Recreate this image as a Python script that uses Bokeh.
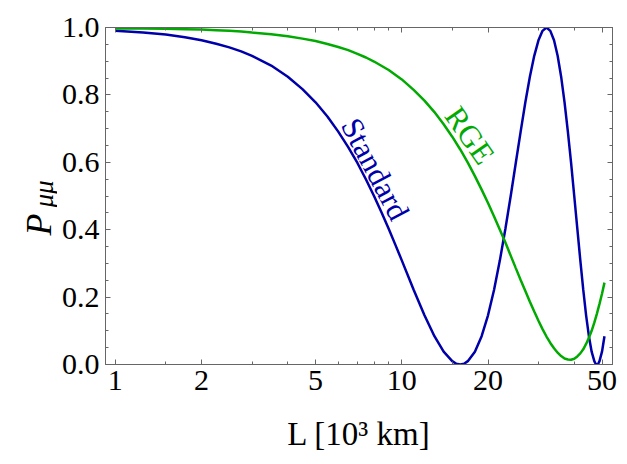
from bokeh.plotting import figure
from bokeh.layouts import row
from bokeh.models import (FixedTicker, LogAxis, LinearAxis, Range1d,
                          CustomJSTickFormatter)
from bokeh.embed import file_html
from bokeh.resources import INLINE
from bokeh.core.properties import value

# ---- data ----
L_std = [1, 1.25, 1.5, 1.75, 2, 2.25, 2.5, 2.75, 3, 3.5, 4, 4.5, 5, 5.5, 6, 6.5,
         7, 7.5, 8, 8.5, 9, 9.5, 10, 11, 12, 13, 14, 15, 15.5, 16, 16.5, 17, 18,
         19, 20, 21, 22, 23, 24, 25, 26, 27, 28, 29, 30, 31, 32, 33, 34, 35, 36,
         37, 38, 39, 40, 41, 42, 43, 44, 45, 46, 47, 47.5, 48, 48.5, 49, 50, 51]
P_std = [0.990, 0.985, 0.979, 0.971, 0.962, 0.952, 0.941, 0.929, 0.916, 0.887,
         0.854, 0.817, 0.778, 0.736, 0.691, 0.645, 0.598, 0.549, 0.500, 0.451,
         0.403, 0.355, 0.309, 0.222, 0.146, 0.084, 0.038, 0.010, 0.002, 0.000,
         0.002, 0.010, 0.038, 0.084, 0.146, 0.222, 0.309, 0.403, 0.500, 0.598,
         0.691, 0.778, 0.854, 0.916, 0.962, 0.990, 1.000, 0.990, 0.962, 0.916,
         0.854, 0.778, 0.691, 0.598, 0.500, 0.403, 0.309, 0.222, 0.146, 0.084,
         0.038, 0.010, 0.002, 0.000, 0.002, 0.010, 0.038, 0.084]

L_rge = [1, 1.25, 1.5, 1.75, 2, 2.25, 2.5, 2.75, 3, 3.5, 4, 4.5, 5, 5.5, 6, 6.5,
         7, 7.5, 8, 9, 10, 11, 12, 13, 14, 15, 16, 17, 18, 19, 20, 21, 22, 23,
         24, 25, 26, 27, 28, 29, 30, 31, 32, 33, 34, 35, 36, 37, 38, 39, 40, 41,
         42, 43, 44, 45, 46, 47, 48, 49, 50, 51]
P_rge = [0.997, 0.997, 0.996, 0.995, 0.994, 0.992, 0.990, 0.988, 0.985, 0.980,
         0.974, 0.967, 0.960, 0.951, 0.942, 0.933, 0.922, 0.911, 0.899, 0.874,
         0.846, 0.815, 0.783, 0.749, 0.713, 0.676, 0.638, 0.599, 0.559, 0.519,
         0.479, 0.439, 0.400, 0.362, 0.323, 0.286, 0.251, 0.218, 0.186, 0.157,
         0.130, 0.105, 0.083, 0.064, 0.048, 0.035, 0.025, 0.018, 0.015, 0.014,
         0.017, 0.024, 0.033, 0.045, 0.061, 0.079, 0.100, 0.124, 0.151, 0.180,
         0.210, 0.243]

x_ticks = [1, 2, 5, 10, 20, 50]
x_minor = [1.5, 3, 4, 6, 7, 8, 9, 15, 30, 40]
y_ticks = [0.0, 0.2, 0.4, 0.6, 0.8, 1.0]
y_minor = [0.05, 0.1, 0.15, 0.25, 0.3, 0.35, 0.45, 0.5, 0.55, 0.65, 0.7, 0.75,
           0.85, 0.9, 0.95]

BLUE = "#0000aa"
GREEN = "#00aa00"
FRAME = "#666666"
FONT = "Liberation Serif"

yr = Range1d(0, 1)
p = figure(x_axis_type="log", x_range=Range1d(0.924, 54.4), y_range=yr,
           frame_width=507, frame_height=337,
           min_border_left=48, min_border_right=15, min_border_top=27,
           min_border_bottom=100,
           output_backend="svg", toolbar_location=None)
p.xgrid.visible = False
p.ygrid.visible = False
p.outline_line_color = FRAME
p.background_fill_color = "white"
p.border_fill_color = "white"

xt = FixedTicker(ticks=x_ticks, minor_ticks=x_minor)
yt = FixedTicker(ticks=y_ticks, minor_ticks=y_minor)

bottom = p.below[0]
left = p.left[0]
bottom.ticker = xt
left.ticker = yt
bottom.formatter = CustomJSTickFormatter(code="return String(tick);")
left.formatter = CustomJSTickFormatter(code="return tick.toFixed(1);")

top = LogAxis(ticker=xt)
right = LinearAxis(ticker=yt)
p.add_layout(top, "above")
p.add_layout(right, "right")

for ax in (bottom, left, top, right):
    ax.axis_line_color = FRAME
    ax.major_tick_line_color = FRAME
    ax.minor_tick_line_color = FRAME
    ax.major_tick_in = 5
    ax.major_tick_out = 0
    ax.minor_tick_in = 3
    ax.minor_tick_out = 0
    ax.major_label_text_font = FONT
    ax.major_label_text_font_size = "30px"
    ax.major_label_text_color = "black"
    ax.major_label_standoff = 6

for ax in (top, right):
    ax.major_label_text_font_size = "0px"
    ax.major_label_standoff = 0
    ax.major_label_text_color = None
    ax.axis_label = None

bottom.axis_label = "L [10³ km]"
bottom.axis_label_text_font = FONT
bottom.axis_label_text_font_size = "33px"
bottom.axis_label_text_font_style = "normal"
bottom.axis_label_text_color = "black"
bottom.axis_label_standoff = 23

p.line(L_std, P_std, line_color=BLUE, line_width=2.5)
p.line(L_rge, P_rge, line_color=GREEN, line_width=2.5)

p.text(x=[8.08], y=[0.58], text=["Standard"], angle=-62, angle_units="deg",
       text_font=value(FONT), text_font_size="31px", text_color=BLUE,
       text_align="center", text_baseline="middle")
p.text(x=[17.29], y=[0.68], text=["RGE"], angle=-55, angle_units="deg",
       text_font=value(FONT), text_font_size="31px", text_color=GREEN,
       text_align="center", text_baseline="middle")

# strip on the left carrying the y axis title P_{μμ};
# it shares the main y range and the same vertical frame geometry
lab = figure(frame_width=57, frame_height=337, x_range=Range1d(0, 57), y_range=yr,
             x_axis_location=None, y_axis_location=None,
             min_border_left=0, min_border_right=0, min_border_top=27,
             min_border_bottom=100, output_backend="svg", toolbar_location=None)
lab.xgrid.visible = False
lab.ygrid.visible = False
lab.outline_line_color = None
lab.background_fill_color = "white"
lab.border_fill_color = "white"
lab.text(x=[38], y=[0.383], text=["P"], angle=90, angle_units="deg",
         text_font=value(FONT), text_font_size="36px", text_font_style="italic",
         text_color="black", text_align="left", text_baseline="alphabetic")
lab.text(x=[43], y=[0.466], text=["μμ"], angle=90, angle_units="deg",
         text_font=value(FONT), text_font_size="27px", text_font_style="italic",
         text_color="black", text_align="left", text_baseline="alphabetic")

open("out.html", "w").write(file_html(row(lab, p, spacing=0), INLINE))
